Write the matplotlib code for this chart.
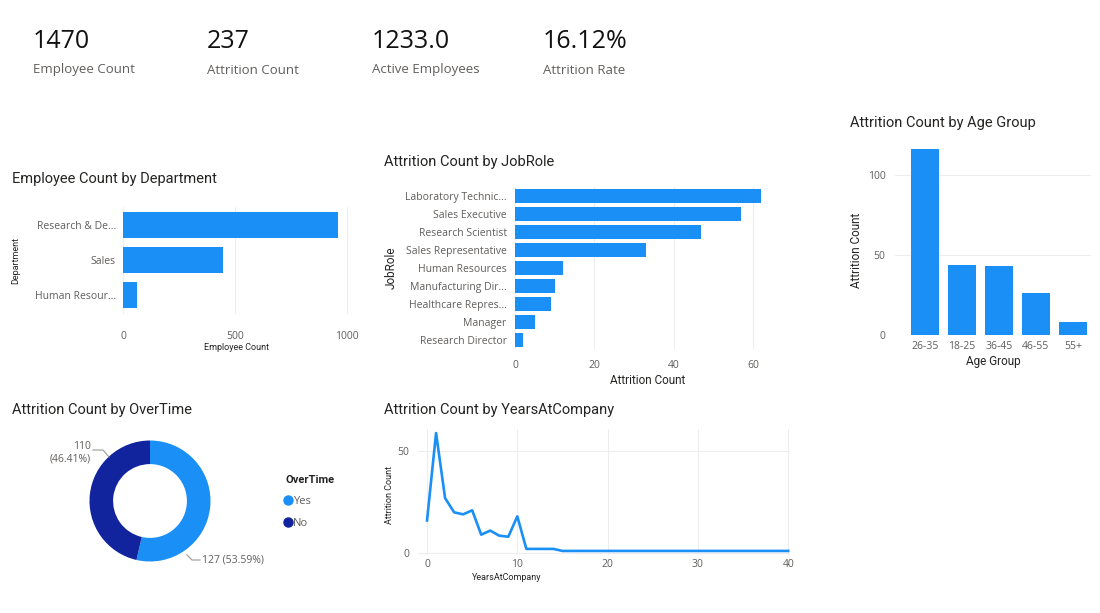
import matplotlib
matplotlib.use("Agg")
import matplotlib.pyplot as plt
from matplotlib.lines import Line2D

W, H = 1100, 613

# KPI cards
kpi_values = ["1470", "237", "1233.0", "16.12%"]
kpi_labels = ["Employee Count", "Attrition Count", "Active Employees", "Attrition Rate"]

# Employee count by department
departments = ["Research & De...", "Sales", "Human Resour..."]
dept_counts = [961, 446, 63]

# Attrition by job role
job_roles = ["Laboratory Technic...", "Sales Executive", "Research Scientist",
             "Sales Representative", "Human Resources", "Manufacturing Dir...",
             "Healthcare Repres...", "Manager", "Research Director"]
job_attrition = [62, 57, 47, 33, 12, 10, 9, 5, 2]

# Attrition by age group
age_groups = ["26-35", "18-25", "36-45", "46-55", "55+"]
age_attrition = [116, 44, 43, 26, 8]

# Attrition by overtime
overtime_labels = ["Yes", "No"]
overtime_counts = [127, 110]

# Attrition by years at company
years = [0, 1, 2, 3, 4, 5, 6, 7, 8, 9, 10, 11, 12, 13, 14, 15, 16, 17, 18,
         19, 20, 21, 22, 23, 24, 31, 32, 33, 40]
years_attrition = [16, 59, 27, 20, 19, 21, 9, 11, 8.5, 8, 18, 2, 2, 2, 2, 1, 1,
                   1, 1, 1, 1, 1, 1, 1, 1, 1, 1, 1, 1]

BLUE = "#1A8FF5"
NAVY = "#12239E"
DARK = "#252423"
GREY = "#605E5C"
GRID = "#EDEDED"
TITLE_FONT = "Roboto"
BODY_FONT = "Open Sans"

plt.rcParams["font.family"] = BODY_FONT


def rect(l, t, r, b):
    return [l / W, 1 - b / H, (r - l) / W, (b - t) / H]


def ptext(x, y, s, **kw):
    fig.text(x / W, 1 - y / H, s, **kw)


def style(ax, tick_size=7.5):
    for sp in ax.spines.values():
        sp.set_visible(False)
    ax.tick_params(length=0, labelsize=tick_size, labelcolor=GREY)
    ax.set_axisbelow(True)


fig = plt.figure(figsize=(W / 100, H / 100), dpi=100)

# KPI row
kpi_x = [33, 207, 372, 543]
for x, v, lab in zip(kpi_x, kpi_values, kpi_labels):
    ptext(x, 42, v, fontsize=18, color="#111111", va="center", ha="left")
    ptext(x, 70, lab, fontsize=9.5, color=GREY, va="center", ha="left")

# Titles
titles = [(12, 179, "Employee Count by Department"),
          (384, 162, "Attrition Count by JobRole"),
          (850, 123, "Attrition Count by Age Group"),
          (12, 410, "Attrition Count by OverTime"),
          (384, 410, "Attrition Count by YearsAtCompany")]
for x, y, s in titles:
    ptext(x, y, s, fontsize=10.5, color=DARK, va="center", family=TITLE_FONT)

# Department bars
ax1 = fig.add_axes(rect(123, 207, 350, 314))
ax1.barh(range(len(departments)), dept_counts, height=0.74, color=BLUE)
ax1.set_yticks(range(len(departments)), departments)
ax1.set_ylim(2.55, -0.5)
ax1.set_xlim(0, 1013)
ax1.set_xticks([0, 500, 1000])
ax1.grid(axis="x", color=GRID, lw=0.8)
style(ax1)
ax1.tick_params(axis="x", pad=12)
ax1.tick_params(axis="y", pad=5)
ax1.set_xlabel("Employee Count", fontsize=6.5, color=DARK, family=TITLE_FONT)
ax1.set_ylabel("Department", fontsize=6.5, color=DARK, family=TITLE_FONT)
ax1.xaxis.set_label_coords(0.5, (314 - 347) / 107)
ax1.xaxis.label.set_va("center")
ax1.yaxis.set_label_coords((16 - 123) / 227, 0.5)
ax1.yaxis.label.set_va("center")

# Job role bars
ax2 = fig.add_axes(rect(515, 187, 780, 349))
ax2.barh(range(len(job_roles)), job_attrition, height=0.78, color=BLUE)
ax2.set_yticks(range(len(job_roles)), job_roles)
ax2.set_ylim(8.5, -0.5)
ax2.set_xlim(0, 66.8)
ax2.set_xticks([0, 20, 40, 60])
ax2.grid(axis="x", color=GRID, lw=0.8)
style(ax2)
ax2.tick_params(axis="x", pad=8)
ax2.tick_params(axis="y", pad=6)
ax2.set_xlabel("Attrition Count", fontsize=8.5, color=DARK, family=TITLE_FONT)
ax2.set_ylabel("JobRole", fontsize=8.5, color=DARK, family=TITLE_FONT)
ax2.xaxis.set_label_coords(0.5, (349 - 380) / 162)
ax2.xaxis.label.set_va("center")
ax2.yaxis.set_label_coords((391 - 515) / 265, 0.5)
ax2.yaxis.label.set_va("center")

# Age group columns
ax3 = fig.add_axes(rect(895, 143, 1091, 335))
ax3.bar(range(len(age_groups)), age_attrition, width=0.76, color=BLUE)
ax3.set_xticks(range(len(age_groups)), age_groups)
ax3.set_xlim(-0.81, 4.49)
ax3.set_ylim(0, 120)
ax3.set_yticks([0, 50, 100])
ax3.grid(axis="y", color=GRID, lw=0.8)
style(ax3)
ax3.tick_params(axis="x", pad=4)
ax3.tick_params(axis="y", pad=7)
ax3.set_xlabel("Age Group", fontsize=8.5, color=DARK, family=TITLE_FONT)
ax3.set_ylabel("Attrition Count", fontsize=8.5, color=DARK, family=TITLE_FONT)
ax3.xaxis.set_label_coords(0.5, (335 - 361) / 192)
ax3.xaxis.label.set_va("center")
ax3.yaxis.set_label_coords((857 - 895) / 196, (335 - 250) / 192)
ax3.yaxis.label.set_va("center")

# Overtime donut
ax4 = fig.add_axes(rect(80, 431, 220, 571))
ax4.pie(overtime_counts, colors=[BLUE, NAVY], startangle=90, counterclock=False,
        wedgeprops=dict(width=0.39, edgecolor="none"))
ax4.set_xlim(-1.157, 1.157)
ax4.set_ylim(-1.157, 1.157)
ax4.set_aspect("equal")
ax4.axis("off")
total = sum(overtime_counts)
yes_txt = f"{overtime_counts[0]} ({overtime_counts[0] / total:.2%})"
no_txt = f"{overtime_counts[1]}\n({overtime_counts[1] / total:.2%})"


def to_data(x, y):
    return ((x - 150) / 60.5, (501 - y) / 60.5)


leader_no = [to_data(93, 450), to_data(103, 450), to_data(109, 457)]
leader_yes = [to_data(187, 555), to_data(192, 560), to_data(200, 560)]
for pts in (leader_no, leader_yes):
    xs, ys = zip(*pts)
    ax4.plot(xs, ys, color="#9a9a9a", lw=0.8, clip_on=False)
ptext(91, 453, no_txt, fontsize=7.5, color=GREY, ha="right", va="center",
      linespacing=1.2)
ptext(202, 560, yes_txt, fontsize=7.5, color=GREY, ha="left", va="center")

handles = [Line2D([], [], marker="o", ls="none", color=c, markersize=6.5)
           for c in (BLUE, NAVY)]
leg = fig.legend(handles, overtime_labels, loc="upper left",
                 bbox_to_anchor=(285 / W, 1 - 475 / H), frameon=False,
                 title="OverTime", alignment="left", handlelength=0.6,
                 handletextpad=0.1, labelspacing=1.0, fontsize=8,
                 borderaxespad=0, borderpad=0)
leg.get_title().set_fontweight("bold")
leg.get_title().set_fontsize(8)
leg.get_title().set_color(DARK)
leg.get_title().set_family(TITLE_FONT)
for t in leg.get_texts():
    t.set_color(GREY)

# Years at company line
ax5 = fig.add_axes(rect(418, 429, 790, 555))
ax5.plot(years, years_attrition, color=BLUE, lw=1.9, solid_joinstyle="round")
ax5.set_xlim(-1, 40.2)
ax5.set_ylim(-1, 61)
ax5.set_xticks([0, 10, 20, 30, 40])
ax5.set_yticks([0, 50])
ax5.grid(color=GRID, lw=0.8)
style(ax5)
ax5.tick_params(axis="x", pad=3)
ax5.tick_params(axis="y", pad=6)
ax5.set_xlabel("YearsAtCompany", fontsize=6.5, color=DARK, family=TITLE_FONT)
ax5.set_ylabel("Attrition Count", fontsize=6.5, color=DARK, family=TITLE_FONT)
ax5.xaxis.set_label_coords((507 - 418) / 372, (555 - 578) / 126)
ax5.xaxis.label.set_va("center")
ax5.yaxis.set_label_coords((389 - 418) / 372, (555 - 495) / 126)
ax5.yaxis.label.set_va("center")

fig.savefig("out.png", dpi=100)
